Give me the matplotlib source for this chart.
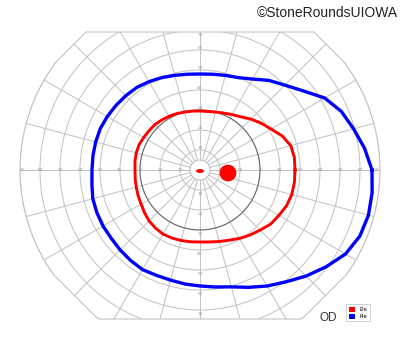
import numpy as np
import matplotlib
matplotlib.use("Agg")
import matplotlib.pyplot as plt
from matplotlib.patches import Polygon, Circle, Ellipse, Patch

# Goldmann visual field, right eye (OD)
# meridians in degrees (every 7.5), isopter eccentricities in degrees
meridians = list(np.arange(0, 360, 7.5))
i2e = [47.5, 47.6, 47, 44.5, 41, 38.5, 36, 33.5,
       32, 30.8, 30, 29.5, 29.5, 29.7, 30, 30.5,
       31, 31.5, 32, 32.2, 32.5, 33, 33, 32.8,
       32.5, 32.7, 33, 33.5, 34, 35, 36, 36.6,
       37, 36.8, 36.5, 36.2, 36, 36.3, 37, 38,
       39.5, 41, 42.5, 44.5, 45.5, 46.8, 47.5, 47.6]
i4e = [86, 83, 79.5, 76.5, 72, 65, 60, 56.5,
       52.5, 50, 49, 48.3, 48, 48.3, 49, 50,
       51, 52, 52.5, 53, 53.5, 54, 54, 54,
       54, 54.5, 55.5, 55.8, 56, 56, 56.5, 57,
       57.5, 57, 57, 57.5, 58, 59, 60.5, 63.5,
       67, 70.5, 75, 79.5, 84, 86.5, 87.2, 86.8]

ring_radii = [5, 10, 20, 30, 40, 50, 60, 70, 80, 90]
h_labels = [10, 20, 30, 40, 50, 60, 70, 80, 90]
v_labels = [10, 20, 30, 40, 50, 60, 70]

blind_spot = (14, -1.5, 4.2)      # x, y, radius
central_spot = (0, -0.5, 4, 2)    # x, y, width, height

series_names = ["I2e", "I4e"]
series_colors = ["#ff0000", "#0000ff"]

GRID = "#c4c4c4"


def clip_half_plane(poly, a, b, c):
    # keep the part of the polygon where a*x + b*y <= c
    out = []
    n = len(poly)
    for i in range(n):
        p, q = poly[i], poly[(i + 1) % n]
        fp = a * p[0] + b * p[1] - c
        fq = a * q[0] + b * q[1] - c
        if fp <= 0:
            out.append(p)
        if fp * fq < 0:
            t = fp / (fp - fq)
            out.append(p + t * (q - p))
    return np.array(out)


def polar_xy(angles, radii):
    th = np.radians(angles)
    r = np.asarray(radii, dtype=float)
    return r * np.cos(th), r * np.sin(th)


fig = plt.figure(figsize=(4.0, 3.52), dpi=100)
ax = fig.add_axes([0, 0, 1, 1])
ax.set_xlim(-100, 100)
ax.set_ylim(-91, 85)
ax.set_aspect("equal")
ax.axis("off")

# chart outline: 90 deg circle with the corners cut off
t = np.linspace(0, 2 * np.pi, 721)[:-1]
outline = np.column_stack([90 * np.cos(t), 90 * np.sin(t)])
for a, b, c in [(0, 1, 69), (0, -1, 74.5), (1, 1, 126), (-1, 1, 126),
                (1, -1, 125.5), (-1, -1, 125.5)]:
    outline = clip_half_plane(outline, a, b, c)
border = Polygon(outline, closed=True, fill=False, ec=GRID, lw=0.8, zorder=1)
ax.add_patch(border)

# rings
for r in ring_radii:
    dark = (r == 30)
    ring = Circle((0, 0), r, fill=False, ec="#6e6e6e" if dark else GRID,
                  lw=0.9 if dark else 0.75, zorder=2 if dark else 1)
    ax.add_patch(ring)
    ring.set_clip_path(border)

# meridian lines
for ang in range(0, 360, 15):
    x, y = polar_xy([ang, ang], [5, 95])
    ln, = ax.plot(x, y, color=GRID, lw=0.75, zorder=1)
    ln.set_clip_path(border)

# scale labels
for r in h_labels:
    pos = min(r, 88.5)
    ax.text(-pos, 0, str(r), fontsize=3.2, color="#9a9a9a", ha="center", va="center", zorder=3)
    ax.text(pos, 0, str(r), fontsize=3.2, color="#9a9a9a", ha="center", va="center", zorder=3)
for r in v_labels:
    ax.text(0, min(r + 1, 67.5), str(r), fontsize=3.2, color="#9a9a9a", ha="center", va="center", zorder=3)
    ax.text(0, -r - 2, str(r), fontsize=3.2, color="#9a9a9a", ha="center", va="center", zorder=3)

# isopters
for radii, color, lw in [(i2e, series_colors[0], 2.1), (i4e, series_colors[1], 2.4)]:
    x, y = polar_xy(meridians + [meridians[0]], radii + [radii[0]])
    ax.plot(x, y, color=color, lw=lw, solid_joinstyle="round", zorder=4)

# scotomas
ax.add_patch(Circle(blind_spot[:2], blind_spot[2], color=series_colors[0], lw=0, zorder=5))
ax.add_patch(Ellipse(central_spot[:2], central_spot[2], central_spot[3],
                     color=series_colors[0], lw=0, zorder=5))

ax.text(64, -74, "OD", fontsize=8.5, color="#333333", ha="center", va="center",
        family="Liberation Sans")

handles = [Patch(fc=c, ec="none") for c in series_colors]
leg = ax.legend(handles, series_names, loc="upper left", bbox_to_anchor=(0.866, 0.135),
                fontsize=3.6, frameon=True, fancybox=False, edgecolor="#bbbbbb",
                handlelength=1.3, handleheight=1.3, handletextpad=0.9,
                labelspacing=0.3, borderpad=0.45, borderaxespad=0)
leg.get_frame().set_linewidth(0.6)

fig.text(0.995, 0.962, "\u00a9StoneRoundsUIOWA", fontsize=10, color="#222222",
         ha="right", va="center", family="Liberation Sans")

fig.savefig("out.png", dpi=100)
